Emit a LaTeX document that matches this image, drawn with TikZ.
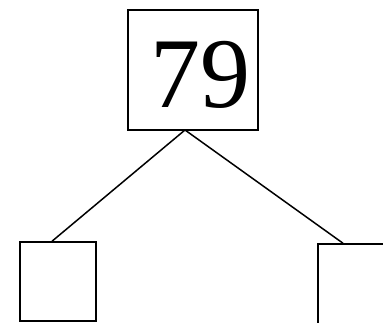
\documentclass[tikz,border=0pt]{standalone}
\usepackage{fontspec}
\setmainfont{Liberation Serif}
\begin{document}
\begin{tikzpicture}[x=1pt,y=1pt,
  boxst/.style={draw=black,line width=1.5pt,rectangle,inner sep=0pt},
  edgest/.style={draw=black,line width=1.5pt}]
\useasboundingbox (0,0) rectangle (383,323);
\clip (0,0) rectangle (383,323);
\node[boxst,minimum width=130pt,minimum height=120pt] (top) at (193,253) {};
\node[inner sep=0pt,font=\fontsize{100}{100}\selectfont] (lbl) at (200,248) {79};
\node[boxst,minimum width=76pt,minimum height=79pt] (lbox) at (58,41.5) {};
\node[boxst,minimum width=80pt,minimum height=90pt] (rbox) at (358,34) {};
\coordinate (apex) at (185,193);
\draw[edgest] (apex) -- ([xshift=-6pt]lbox.north);
\draw[edgest] (apex) -- ([xshift=-15pt]rbox.north);
\end{tikzpicture}
\end{document}
